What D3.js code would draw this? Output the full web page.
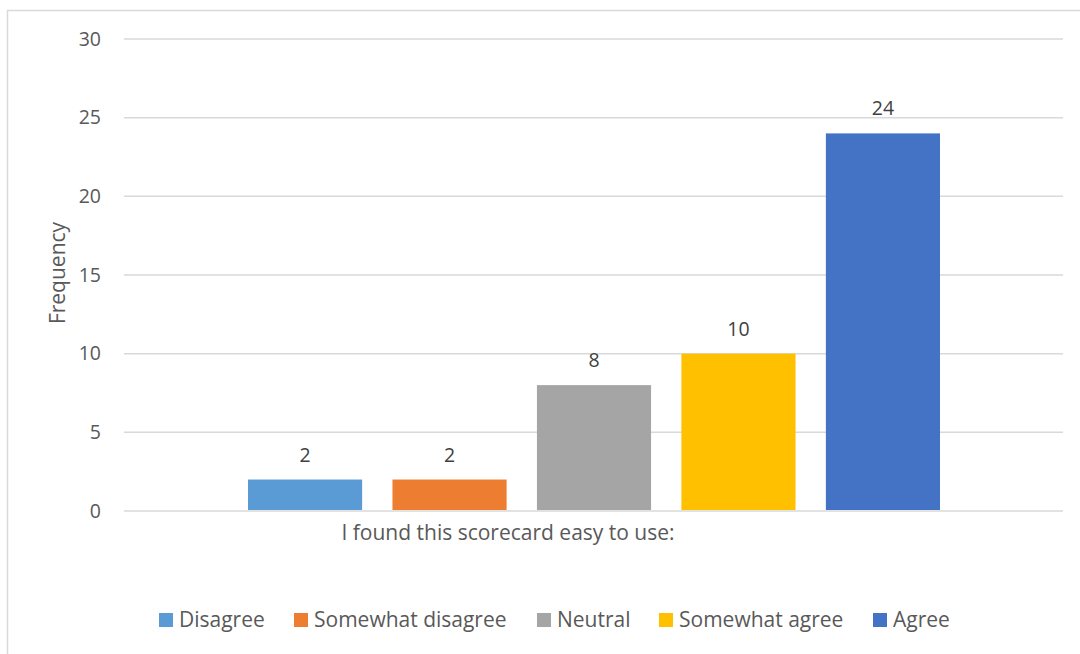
<!DOCTYPE html>
<html>
<head>
<meta charset="utf-8">
<script src="https://cdn.jsdelivr.net/npm/d3@7"></script>
<style>
  body { margin: 0; background: #fff; }
  text { font-family: "Open Sans", Lato, sans-serif; }
</style>
</head>
<body>
<svg id="chart" width="1080" height="654"></svg>
<script>
const categories = ["I found this scorecard easy to use:"];
const series = ["Disagree", "Somewhat disagree", "Neutral", "Somewhat agree", "Agree"];
const values = [2, 2, 8, 10, 24];
const colors = ["#5B9BD5", "#ED7D31", "#A5A5A5", "#FFC000", "#4472C4"];
const yTicks = [0, 5, 10, 15, 20, 25, 30];

{
    const plot = {left: 124, right: 1063, top: 39, bottom: 511};

    const svg = d3.select("#chart");

    // chart frame (runs off right/bottom edge)
    svg.append("rect")
        .attr("x", 7.5).attr("y", 10.5)
        .attr("width", 1100).attr("height", 700)
        .attr("fill", "none")
        .attr("stroke", "#d9d9d9")
        .attr("stroke-width", 1.5);

    const y = d3.scaleLinear().domain([0, 30]).range([plot.bottom, plot.top]);

    const x1 = d3.scaleBand().domain(series).range([248, 940]).paddingInner(0.21);

    // gridlines
    svg.append("g")
        .selectAll("line")
        .data(yTicks)
        .enter()
            .append("line")
            .attr("x1", plot.left).attr("x2", plot.right)
            .attr("y1", d => y(d)).attr("y2", d => y(d))
            .attr("stroke", "#d9d9d9")
            .attr("stroke-width", 1.5);

    // y tick labels
    svg.append("g")
        .selectAll("text")
        .data(yTicks)
        .enter()
            .append("text")
            .attr("x", 101)
            .attr("y", d => y(d))
            .attr("dy", "0.35em")
            .attr("text-anchor", "end")
            .attr("fill", "#595959")
            .style("font-size", "19.5px")
            .text(d => d);

    // bars
    svg.append("g")
        .selectAll("rect")
        .data(series)
        .enter()
            .append("rect")
            .attr("x", d => x1(d))
            .attr("y", (d, i) => y(values[i]))
            .attr("width", x1.bandwidth())
            .attr("height", (d, i) => y(0) - y(values[i]) - 1)
            .attr("fill", (d, i) => colors[i]);

    // value labels
    svg.append("g")
        .selectAll("text")
        .data(series)
        .enter()
            .append("text")
            .attr("x", d => x1(d) + x1.bandwidth() / 2)
            .attr("y", (d, i) => y(values[i]) - 18)
            .attr("text-anchor", "middle")
            .attr("fill", "#404040")
            .style("font-size", "19.5px")
            .text((d, i) => values[i]);

    // category label
    svg.append("text")
        .attr("x", 508)
        .attr("y", 540)
        .attr("text-anchor", "middle")
        .attr("fill", "#595959")
        .style("font-size", "21px")
        .text(categories[0]);

    // y axis title
    svg.append("text")
        .attr("transform", "translate(65, 273) rotate(-90)")
        .attr("text-anchor", "middle")
        .attr("fill", "#595959")
        .style("font-size", "21px")
        .text("Frequency");

    // legend
    const legendX = [159, 294, 537, 659, 873];
    const legend = svg.append("g")
        .selectAll("g")
        .data(series)
        .enter()
            .append("g")
            .attr("transform", (d, i) => `translate(${legendX[i]}, 613)`);
    legend.append("rect")
        .attr("width", 14).attr("height", 14)
        .attr("fill", (d, i) => colors[i]);
    legend.append("text")
        .attr("x", 20)
        .attr("y", 14)
        .attr("fill", "#595959")
        .style("font-size", "21px")
        .text(d => d);
}
</script>
</body>
</html>
